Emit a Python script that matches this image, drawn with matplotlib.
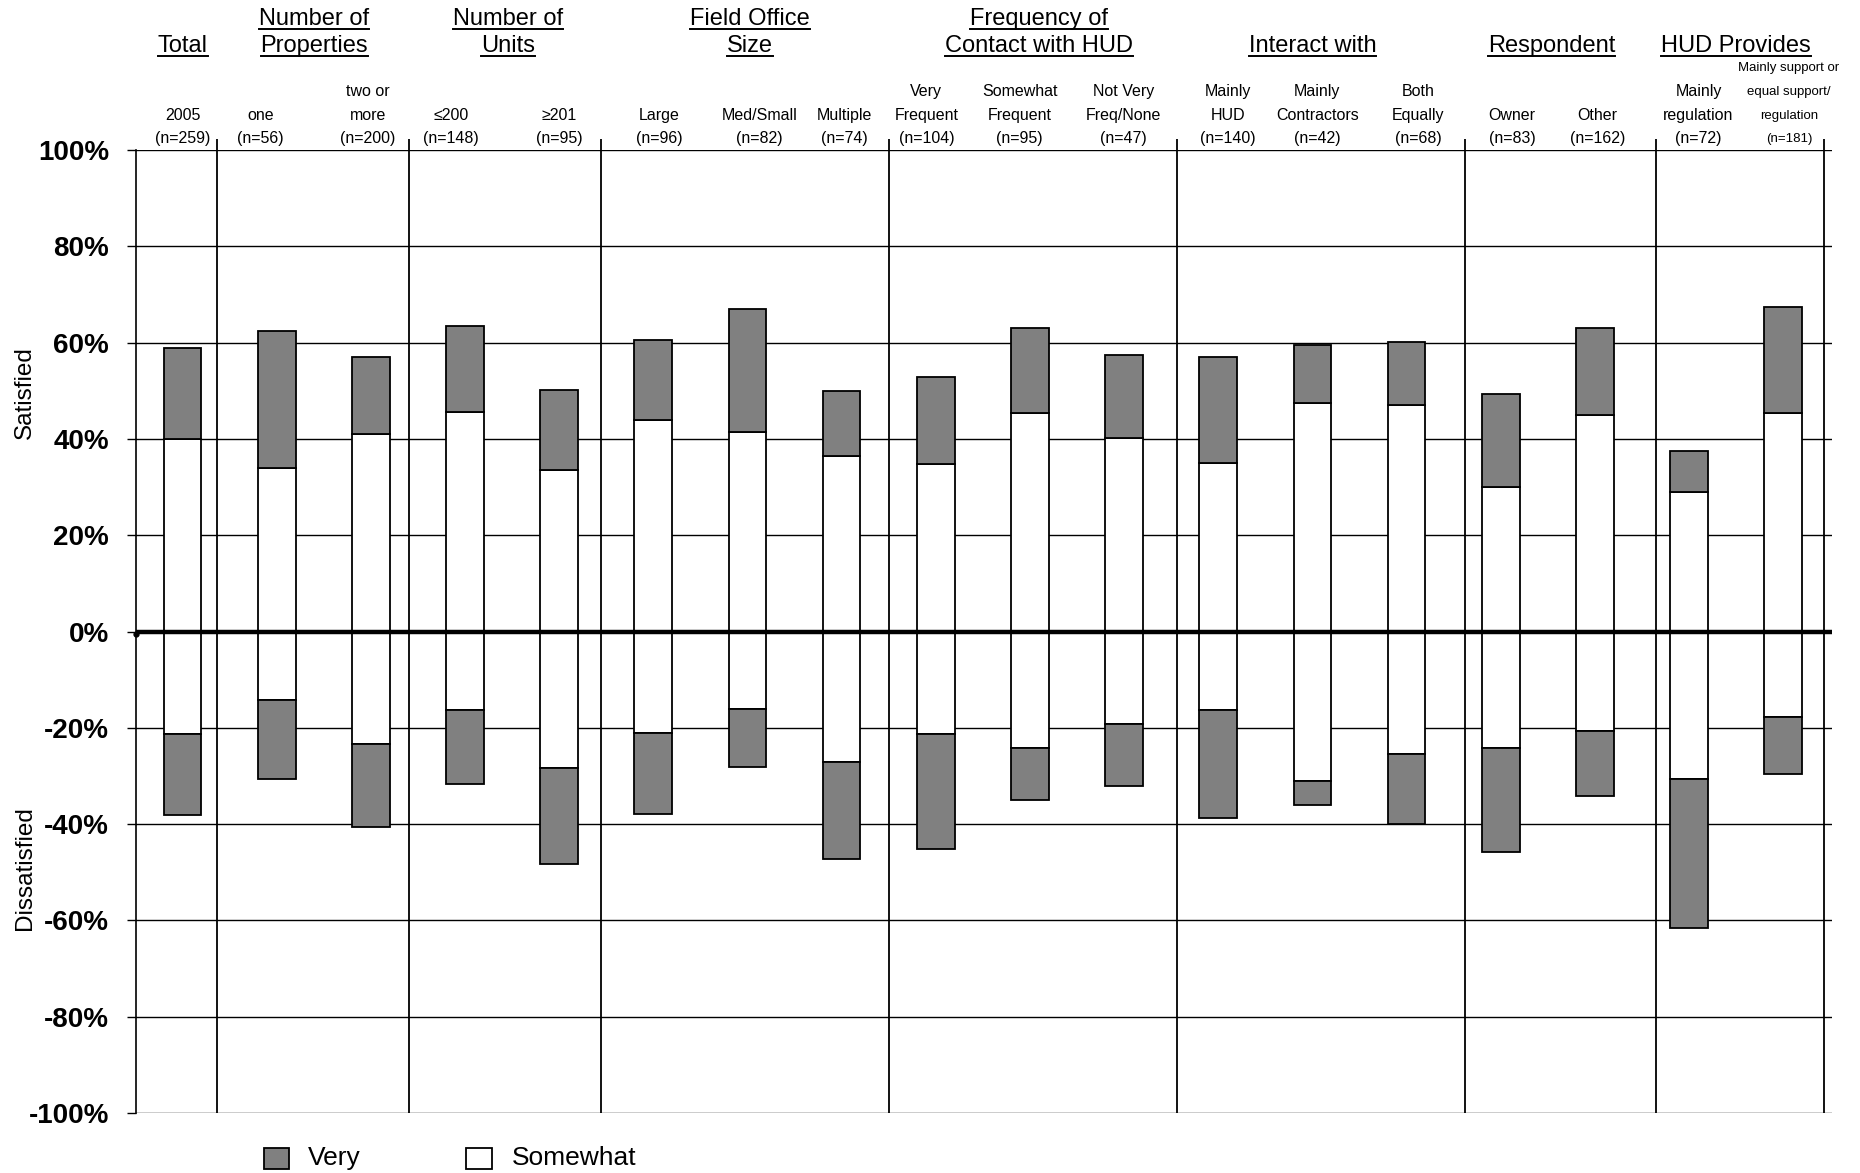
import matplotlib
matplotlib.use("Agg")
import matplotlib.pyplot as plt
from matplotlib.transforms import blended_transform_factory
from matplotlib.patches import Rectangle
from matplotlib.lines import Line2D

plt.rcParams['font.family'] = ['Liberation Sans', 'DejaVu Sans']

# ---------------- data ----------------
group_names = ["Total", "Number of\nProperties", "Number of\nUnits", "Field Office\nSize",
               "Frequency of\nContact with HUD", "Interact with", "Respondent", "HUD Provides"]
category_lines = [["2005"], ["one"], ["two or", "more"], ["≤200"], ["≥201"],
                  ["Large"], ["Med/Small"], ["Multiple"],
                  ["Very", "Frequent"], ["Somewhat", "Frequent"], ["Not Very", "Freq/None"],
                  ["Mainly", "HUD"], ["Mainly", "Contractors"], ["Both", "Equally"],
                  ["Owner"], ["Other"],
                  ["Mainly", "regulation"], ["Mainly support or", "equal support/", "regulation"]]
n_values = [259, 56, 200, 148, 95, 96, 82, 74, 104, 95, 47, 140, 42, 68, 83, 162, 72, 181]

sat_somewhat = [40.0, 33.9, 41.0, 45.6, 33.5, 43.9, 41.4, 36.4, 34.7, 45.3, 40.2, 35.0,
                47.4, 47.1, 30.0, 44.9, 28.9, 45.3]
sat_very = [18.8, 28.5, 16.0, 17.8, 16.7, 16.6, 25.5, 13.5, 18.1, 17.7, 17.2, 22.0,
            12.1, 13.1, 19.3, 18.1, 8.6, 22.1]
dis_somewhat = [21.3, 14.3, 23.4, 16.4, 28.4, 21.0, 16.1, 27.1, 21.3, 24.2, 19.2, 16.4,
                31.1, 25.4, 24.2, 20.7, 30.6, 17.8]
dis_very = [16.8, 16.3, 17.2, 15.3, 19.9, 16.8, 12.1, 20.2, 23.9, 10.7, 12.8, 22.4,
            4.9, 14.5, 21.6, 13.4, 30.9, 11.8]

y_ticks = [100, 80, 60, 40, 20, 0, -20, -40, -60, -80, -100]

# ---------------- layout ----------------
group_x = [0.0, 1.40, 3.46, 6.03, 9.1, 12.0, 14.54, 16.50]
label_x = [0.0, 0.83, 1.97, 2.85, 4.0, 5.06, 6.13, 7.03, 7.90, 8.89, 9.99, 11.10,
           12.05, 13.12, 14.12, 15.03, 16.10, 17.06]
separators_x = [0.37, 2.405, 4.44, 7.50, 10.56, 13.62, 15.65, 17.43]

W, H = 1860, 1173
fig = plt.figure(figsize=(W / 100, H / 100), dpi=100)


def fy(px):
    return 1 - px / H


def fx(px):
    return px / W


ax = fig.add_axes([fx(136), fy(1113), fx(1832 - 136), (1113 - 150) / H])
x = list(range(len(n_values)))
bw = 0.40
VERY = '#808080'

ax.bar(x, sat_somewhat, width=bw, color='white', edgecolor='black', linewidth=1.3, zorder=3)
ax.bar(x, sat_very, width=bw, bottom=sat_somewhat, color=VERY, edgecolor='black',
       linewidth=1.3, zorder=3)
neg_som = [-v for v in dis_somewhat]
neg_very = [-v for v in dis_very]
ax.bar(x, neg_som, width=bw, color='white', edgecolor='black', linewidth=1.3, zorder=3)
ax.bar(x, neg_very, width=bw, bottom=neg_som, color=VERY, edgecolor='black',
       linewidth=1.3, zorder=3)

ax.set_xlim(-0.494, 17.518)
ax.set_ylim(-100, 100)
ax.set_xticks([])
ax.set_yticks(y_ticks)
ax.set_yticklabels([f"{v}%" for v in y_ticks], fontsize=20, fontweight='bold')
ax.tick_params(axis='y', direction='out', length=6.5, width=1, pad=13, color='black')
ax.yaxis.grid(True, color='black', linewidth=1.0)
ax.set_axisbelow(True)
for s in ['top', 'right', 'bottom']:
    ax.spines[s].set_visible(False)
ax.spines['left'].set_linewidth(1.2)
ax.spines['left'].set_color('black')

ax.axhline(0, color='black', linewidth=3.2, zorder=6)
ax.plot([-0.494], [-0.6], marker='o', markersize=3.5, color='black', clip_on=False, zorder=7)
ax.vlines(separators_x, -100, 102.3, colors='black', linewidth=1.3, clip_on=False, zorder=4)

blend = blended_transform_factory(ax.transData, fig.transFigure)

# group headers (underlined)
header_texts = []
for gx, name in zip(group_x, group_names):
    lines = name.split("\n")
    baselines = [25, 52] if len(lines) == 2 else [52]
    for ln, bl in zip(lines, baselines):
        t = ax.text(gx, fy(bl), ln, transform=blend, ha='center', va='baseline',
                    fontsize=17, clip_on=False)
        header_texts.append((t, bl))

# category labels
line_centers = [139, 115.5, 91.8, 68]
for i, (lx, lines, n) in enumerate(zip(label_x, category_lines, n_values)):
    all_lines = lines + [f"(n={n})"]
    fs = 9.5 if i == len(n_values) - 1 else 11.5
    for j, ln in enumerate(reversed(all_lines)):
        ax.text(lx, fy(line_centers[j]), ln, transform=blend, ha='center', va='center',
                fontsize=fs, clip_on=False)

# side labels
fig.text(fx(25), fy(393), "Satisfied", rotation=90, ha='center', va='center', fontsize=17.5)
fig.text(fx(25), fy(868), "Dissatisfied", rotation=90, ha='center', va='center', fontsize=17.5)

# legend
fig.add_artist(Rectangle((fx(264), fy(1169)), fx(25), 21 / H, transform=fig.transFigure,
                         facecolor=VERY, edgecolor='black', linewidth=1.3))
fig.text(fx(308), fy(1158), "Very", ha='left', va='center', fontsize=19)
fig.add_artist(Rectangle((fx(466), fy(1169)), fx(26), 21 / H, transform=fig.transFigure,
                         facecolor='white', edgecolor='black', linewidth=1.3))
fig.text(fx(512), fy(1158), "Somewhat", ha='left', va='center', fontsize=19)

# underlines
fig.canvas.draw()
renderer = fig.canvas.get_renderer()
for t, bl in header_texts:
    bb = t.get_window_extent(renderer)
    fig.add_artist(Line2D([bb.x0 / W, bb.x1 / W], [fy(bl + 4)] * 2,
                          transform=fig.transFigure, color='black', linewidth=1.4))

fig.savefig("out.png", dpi=100)
